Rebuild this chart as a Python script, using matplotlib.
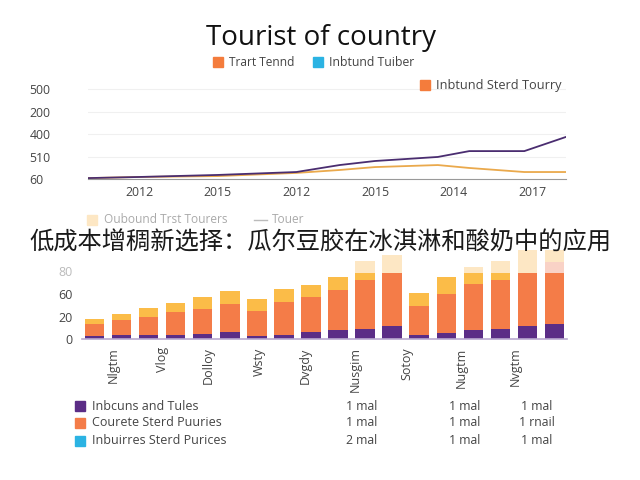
import matplotlib
matplotlib.use("Agg")
import matplotlib.pyplot as plt
from matplotlib.patches import Rectangle
from matplotlib.lines import Line2D
import numpy as np

# ---------------- data ----------------
line_x = [-0.65, 0, 1, 2, 2.55, 3, 3.8, 4.2, 4.9, 5.43]
purple_line = [0.04, 0.09, 0.18, 0.31, 0.62, 0.80, 0.98, 1.24, 1.24, 1.87]
gold_line = [0.04, 0.09, 0.13, 0.27, 0.40, 0.53, 0.62, 0.49, 0.31, 0.31]
line_xticks = [0, 1, 2, 3, 4, 5]
line_xlabels = ["2012", "2015", "2012", "2015", "2014", "2017"]
line_yticks = [0, 1, 2, 3, 4]
line_ylabels = ["60", "510", "400", "200", "500"]

bar_purple = [0.12, 0.16, 0.18, 0.19, 0.22, 0.30, 0.15, 0.16, 0.30,
              0.40, 0.46, 0.59, 0.19, 0.28, 0.40, 0.46, 0.56, 0.67]
bar_orange = [0.56, 0.70, 0.80, 1.00, 1.13, 1.26, 1.11, 1.47, 1.58,
              1.78, 2.16, 2.33, 1.26, 1.73, 2.03, 2.18, 2.39, 2.28]
bar_yellow = [0.22, 0.27, 0.41, 0.42, 0.52, 0.59, 0.53, 0.59, 0.52,
              0.56, 0.33, 0.00, 0.59, 0.73, 0.52, 0.31, 0.00, 0.00]
bar_pink = [0, 0, 0, 0, 0, 0, 0, 0, 0, 0, 0, 0, 0, 0, 0, 0, 0, 0.46]
bar_cream = [0, 0, 0, 0, 0, 0, 0, 0, 0, 0, 0.50, 0.83, 0, 0, 0.25, 0.50, 1.02, 0.56]
bar_yticks = [0, 1, 2, 3]
bar_ylabels = ["0", "20", "60", "80"]
bar_xticks = [0.68, 2.53, 4.19, 6.08, 7.78, 9.63, 11.55, 13.54, 15.54]
bar_xlabels = ["Nlgtm", "Vlog", "Dolloy", "Wsty", "Dvgdy",
               "Nusgim", "Sotoy", "Nugtm", "Nvgtm"]

table_labels = ["Inbcuns and Tules", "Courete Sterd Puuries", "Inbuirres Sterd Purices"]
table_values = [["1 mal", "1 mal", "1 mal"],
                ["1 mal", "1 mal", "1 rnail"],
                ["2 mal", "1 mal", "1 mal"]]

PURPLE = "#5b2d86"
ORANGE = "#f47c48"
YELLOW = "#fbbc48"
CREAM = "#fde7c4"
PINK = "#f9d2c6"
BLUE = "#2bb3e3"
GRAY = "#444444"

plt.rcParams["font.family"] = ["Open Sans", "DejaVu Sans"]

fig = plt.figure(figsize=(6.4, 4.8), dpi=100)
fig.patch.set_facecolor("white")


def px(x, y):
    return x / 640, 1 - y / 480


def square(x, y, col):
    # small legend square, (x, y) = top-left in pixels
    fig.patches.append(Rectangle(px(x, y + 10), 10 / 640, 10 / 480, color=col,
                                 transform=fig.transFigure))


# ---------------- line chart ----------------
ax1 = fig.add_axes([88 / 640, 1 - 179 / 480, (566 - 88) / 640, 99 / 480])
ax1.plot(line_x, gold_line, color="#eaa94c", lw=1.3)
ax1.plot(line_x, purple_line, color="#4a2d70", lw=1.3)
ax1.set_xlim(-0.65, 5.43)
ax1.set_ylim(0, 4.4)
ax1.set_yticks(line_yticks)
ax1.set_yticklabels(line_ylabels)
ax1.set_xticks(line_xticks)
ax1.set_xticklabels(line_xlabels)
ax1.tick_params(length=0, labelsize=8.8, labelcolor=GRAY)
ax1.tick_params(axis="y", pad=42)
ax1.tick_params(axis="x", pad=5)
ax1.grid(axis="y", color="#f0f0f0", lw=0.8)
for s in ["top", "right", "left"]:
    ax1.spines[s].set_visible(False)
ax1.spines["bottom"].set_color("#999999")
for lab in ax1.get_yticklabels():
    lab.set_horizontalalignment("left")

fig.text(*px(321, 38), "Tourist of country", fontsize=20, ha="center", va="center", color="#111111")
square(213, 57, "#f47c3c")
fig.text(*px(229, 62), "Trart Tennd", fontsize=8.6, va="center", color=GRAY)
square(313, 57, BLUE)
fig.text(*px(329, 62), "Inbtund Tuiber", fontsize=8.8, va="center", color=GRAY)
square(420, 80, "#f47c3c")
fig.text(*px(436, 85), "Inbtund Sterd Tourry", fontsize=9.2, va="center", color=GRAY)

# ---------------- bar chart ----------------
ax2 = fig.add_axes([82 / 640, 1 - 339 / 480, (567 - 82) / 640, 90 / 480])
idx = np.arange(len(bar_purple))
bottom = np.zeros(len(idx))
for vals, col in [(bar_purple, PURPLE), (bar_orange, ORANGE), (bar_yellow, YELLOW),
                  (bar_pink, PINK), (bar_cream, CREAM)]:
    ax2.bar(idx, vals, bottom=bottom, width=0.72, color=col, zorder=2)
    bottom = bottom + np.array(vals)
ax2.set_xlim(-0.46, 17.46)
ax2.set_ylim(0, 4.0)
ax2.set_yticks(bar_yticks)
ax2.set_yticklabels(bar_ylabels)
ax2.set_xticks(bar_xticks)
ax2.set_xticklabels(bar_xlabels, rotation=90)
ax2.tick_params(length=0, labelsize=9, labelcolor=GRAY)
ax2.tick_params(axis="y", pad=7)
ax2.tick_params(axis="x", pad=6)
ax2.get_yticklabels()[-1].set_color("#bbbbbb")
for s in ["top", "right", "left"]:
    ax2.spines[s].set_visible(False)
ax2.spines["bottom"].set_color("#b9a9d0")
ax2.spines["bottom"].set_linewidth(1.2)

square(87, 215, CREAM)
fig.text(*px(104, 220), "Oubound Trst Tourers", fontsize=8.6, va="center", color="#aaaaaa")
fig.lines.append(Line2D([254 / 640, 267 / 640], [1 - 220 / 480] * 2, color="#bbbbbb", lw=1,
                        transform=fig.transFigure))
fig.text(*px(272, 220), "Touer", fontsize=8.6, va="center", color="#aaaaaa")

fig.text(*px(320, 243), "低成本增稠新选择：瓜尔豆胶在冰淇淋和酸奶中的应用", fontsize=17.5,
         ha="center", va="center", color="#1a1a1a",
         family=["Noto Sans CJK SC", "DejaVu Sans"], zorder=10)

# ---------------- bottom table ----------------
row_y = [406, 423, 441]
sq_cols = [PURPLE, ORANGE, BLUE]
col_x = [362, 465, 537]
for r, (lab, col) in enumerate(zip(table_labels, sq_cols)):
    square(75, row_y[r] - 5, col)
    fig.text(*px(92, row_y[r]), lab, fontsize=9, va="center", color=GRAY)
    for c, v in enumerate(table_values[r]):
        fig.text(*px(col_x[c], row_y[r]), v, fontsize=8.8, va="center", ha="center", color=GRAY)

fig.savefig("out.png", dpi=100, facecolor="white")
